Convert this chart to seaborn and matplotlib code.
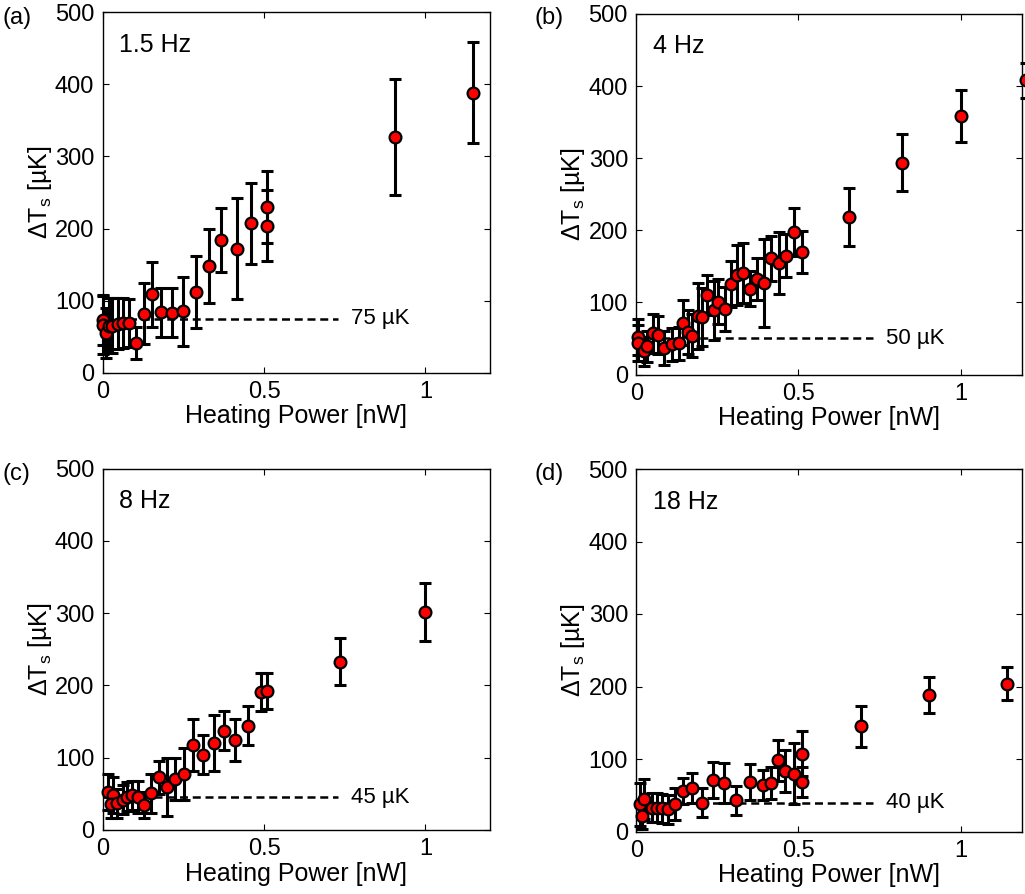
import matplotlib
matplotlib.use("Agg")
import matplotlib.pyplot as plt
import seaborn as sns
import pandas as pd

# ---- measured temperature rise vs. heating power, four trap frequencies ----
freq_labels = ["1.5 Hz", "4 Hz", "8 Hz", "18 Hz"]
panel_tags = ["(a)", "(b)", "(c)", "(d)"]
baseline_uK = [75, 50, 45, 40]

power_a = [0.001, 0.001, 0.01, 0.02, 0.03, 0.047, 0.063, 0.08, 0.104, 0.127, 0.154, 0.182,
           0.216, 0.25, 0.288, 0.329, 0.368, 0.415, 0.459, 0.509, 0.509, 0.905, 1.146]
dT_a = [73, 66, 55, 65, 65, 68, 69, 69, 41, 82, 109, 84,
        83, 85, 112, 148, 184, 172, 207, 230, 204, 327, 388]
err_a = [35, 40, 35, 38, 38, 35, 35, 33, 22, 42, 45, 34,
         34, 48, 50, 51, 45, 70, 56, 50, 49, 80, 70]

power_b = [0.006, 0.006, 0.024, 0.032, 0.051, 0.066, 0.086, 0.109, 0.132, 0.143, 0.16, 0.173,
           0.191, 0.202, 0.219, 0.238, 0.253, 0.272, 0.292, 0.31, 0.328, 0.351, 0.372, 0.394,
           0.416, 0.44, 0.462, 0.487, 0.511, 0.656, 0.82, 1.0, 1.2]
dT_b = [52, 44, 32, 39, 57, 55, 37, 42, 43, 72, 59, 54,
        81, 80, 110, 89, 101, 91, 125, 138, 141, 119, 132, 127,
        161, 154, 165, 198, 170, 218, 294, 358, 408]
err_b = [25, 25, 20, 22, 27, 26, 24, 23, 23, 31, 31, 30,
         46, 40, 28, 41, 31, 30, 32, 42, 42, 24, 29, 61,
         31, 43, 30, 33, 29, 40, 39, 36, 24]

power_c = [0.017, 0.031, 0.025, 0.043, 0.064, 0.074, 0.09, 0.11, 0.128, 0.149, 0.174, 0.198,
           0.224, 0.252, 0.28, 0.311, 0.344, 0.376, 0.411, 0.451, 0.49, 0.51, 0.734, 0.998]
dT_c = [52, 48, 36, 37, 42, 46, 48, 46, 34, 51, 73, 60,
        71, 77, 118, 104, 120, 137, 124, 144, 191, 192, 233, 301]
err_c = [25, 25, 20, 20, 20, 20, 20, 22, 18, 27, 23, 40,
         29, 36, 36, 27, 39, 27, 29, 27, 26, 25, 32, 40]

power_d = [0.011, 0.017, 0.024, 0.047, 0.063, 0.078, 0.099, 0.119, 0.143, 0.171, 0.202, 0.236,
           0.271, 0.307, 0.351, 0.392, 0.415, 0.438, 0.459, 0.485, 0.51, 0.51, 0.694, 0.903, 1.143]
dT_d = [37.5, 21, 45, 33, 33, 32, 31, 37.5, 56, 60, 40, 71,
        67, 43, 68, 64, 67, 98, 83, 80, 68, 107, 145, 188, 204]
err_d = [30, 18, 28, 20, 20, 20, 20, 22, 18, 21, 20, 25,
         27, 20, 25, 21, 22, 28, 29, 42, 21, 31, 28, 25, 23]

x_ticks = [0, 0.5, 1]
x_tick_labels = ["0", "0.5", "1"]
y_ticks = [0, 100, 200, 300, 400, 500]

series = [(power_a, dT_a, err_a), (power_b, dT_b, err_b),
          (power_c, dT_c, err_c), (power_d, dT_d, err_d)]

sns.set_theme(style="ticks")
plt.rcParams["font.family"] = ["Liberation Sans", "DejaVu Sans"]
plt.rcParams["mathtext.default"] = "regular"
plt.rcParams["xtick.direction"] = "in"
plt.rcParams["ytick.direction"] = "in"
plt.rcParams["text.color"] = "black"
plt.rcParams["axes.labelcolor"] = "black"

W, H = 1025, 894
fig = plt.figure(figsize=(W / 100, H / 100), dpi=100)

# axes boxes in pixels: left, top, right, bottom, x upper limit
boxes = [
    (102.7, 12.2, 490.0, 372.7, 1.2),
    (636.3, 14.0, 1022.3, 374.5, 1.19),
    (102.7, 468.5, 490.0, 830.0, 1.2),
    (636.3, 469.0, 1022.3, 831.5, 1.19),
]

FS = 17

for i, ((l, t, r, b, xmax), (px, dt, er)) in enumerate(zip(boxes, series)):
    ax = fig.add_axes([l / W, 1 - b / H, (r - l) / W, (b - t) / H])
    df = pd.DataFrame({"power": px, "dT": dt, "err": er})

    # reference temperature (dashed) with its label
    ax.plot([0, 0.73], [baseline_uK[i]] * 2, ls=(0, (3.2, 1.9)), color="black",
            lw=1.8, zorder=1)
    ax.text(0.77, baseline_uK[i], f"{baseline_uK[i]} \u00b5K", fontsize=FS - 1,
            va="center", ha="left")

    ax.errorbar(df["power"], df["dT"], yerr=df["err"], fmt="none", ecolor="black",
                elinewidth=2.2, capsize=4.5, capthick=2.2, zorder=2, clip_on=False)
    sns.scatterplot(data=df, x="power", y="dT", ax=ax, color="red", edgecolor="black",
                    linewidth=1.6, s=72, zorder=3, clip_on=False, legend=False)

    ax.set_xlim(0, xmax)
    ax.set_ylim(0, 500)
    ax.set_xticks(x_ticks)
    ax.set_xticklabels(x_tick_labels)
    ax.set_yticks(y_ticks)
    ax.tick_params(axis="both", which="both", labelsize=FS, top=True, right=True,
                   length=4, width=0.8, pad=6, colors="black")
    for sp in ax.spines.values():
        sp.set_visible(True)
        sp.set_linewidth(1.0)
        sp.set_color("black")

    ax.set_xlabel("Heating Power [nW]", fontsize=FS + 1, labelpad=1)
    ax.set_ylabel("\u0394T$_{s}$ [\u00b5K]", fontsize=FS + 1, labelpad=1)
    ax.text(0.042, 0.91, freq_labels[i], transform=ax.transAxes, fontsize=FS + 1,
            va="center", ha="left")

    tag_x = 2 if i in (0, 2) else 535
    tag_y = 18 if i < 2 else 474
    fig.text(tag_x / W, 1 - tag_y / H, panel_tags[i], fontsize=FS, va="center", ha="left")

fig.savefig("out.png", dpi=100)
